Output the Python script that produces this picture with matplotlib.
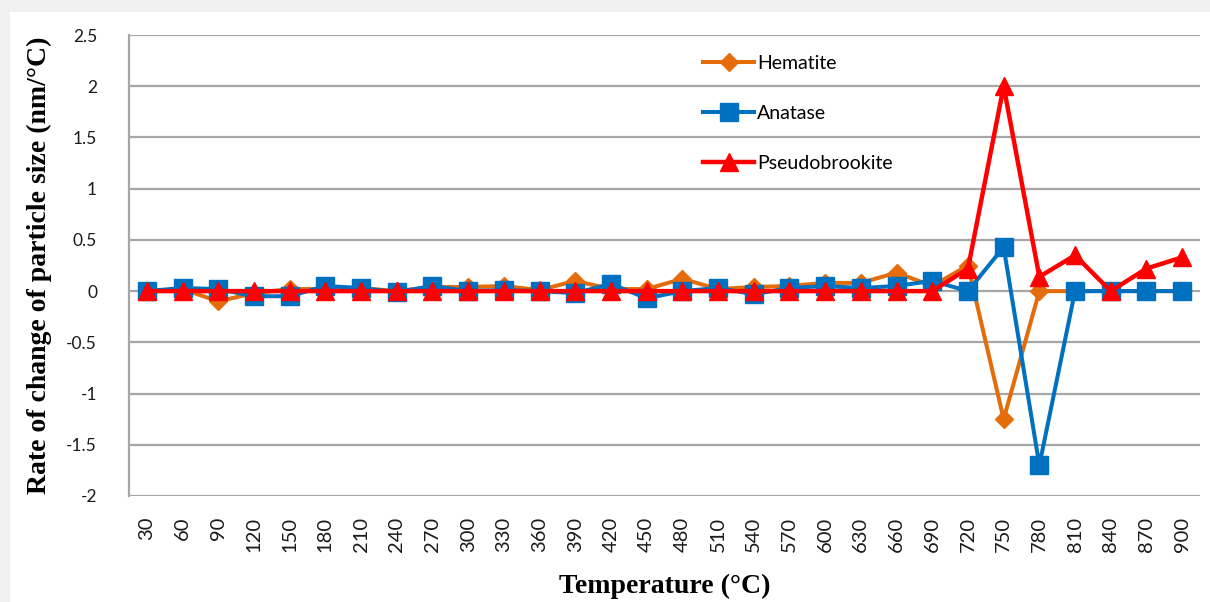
import matplotlib
matplotlib.use("Agg")
import matplotlib.pyplot as plt
from matplotlib.patches import Rectangle

temperatures = [30, 60, 90, 120, 150, 180, 210, 240, 270, 300, 330, 360, 390, 420, 450,
                480, 510, 540, 570, 600, 630, 660, 690, 720, 750, 780, 810, 840, 870, 900]
hematite = [0.0, 0.02, -0.10, -0.02, 0.02, 0.02, 0.03, 0.0, 0.04, 0.04, 0.05, 0.01, 0.10, 0.02, 0.02,
            0.12, 0.02, 0.04, 0.05, 0.08, 0.08, 0.18, 0.05, 0.25, -1.25, 0.0, 0.0, 0.0, 0.0, 0.0]
anatase = [0.0, 0.03, 0.02, -0.05, -0.05, 0.05, 0.03, -0.01, 0.05, 0.0, 0.01, 0.0, -0.02, 0.07, -0.07,
           0.0, 0.03, -0.03, 0.03, 0.05, 0.03, 0.05, 0.10, 0.0, 0.43, -1.70, 0.0, 0.0, 0.0, 0.0]
pseudobrookite = [0.0, 0.0, 0.0, 0.0, 0.0, 0.0, 0.0, 0.0, 0.0, 0.0, 0.0, 0.0, 0.0, 0.0, 0.0,
                  0.0, 0.0, 0.0, 0.0, 0.0, 0.0, 0.0, 0.0, 0.22, 2.0, 0.14, 0.35, 0.0, 0.22, 0.33]
y_ticks = [2.5, 2, 1.5, 1, 0.5, 0, -0.5, -1, -1.5, -2]
y_tick_labels = ["2.5", "2", "1.5", "1", "0.5", "0", "-0.5", "-1", "-1.5", "-2"]

fig = plt.figure(figsize=(12.1, 6.02), dpi=100, facecolor="#f0f0f0")
fig.patches.append(Rectangle((10/1210, 0), 1 - 10/1210, 1 - 12/602, transform=fig.transFigure,
                             facecolor="white", edgecolor="none", zorder=-10))
ax = fig.add_axes([129/1210, 1 - 496/602, (1200 - 129)/1210, (496 - 35)/602])
ax.set_zorder(5)
ax.set_facecolor("white")

x = list(range(len(temperatures)))
ax.plot(x, hematite, color="#E46C0A", lw=2.9, marker="D", markersize=9, label="Hematite", zorder=3)
ax.plot(x, anatase, color="#0070C0", lw=2.9, marker="s", markersize=12.5, label="Anatase", zorder=4)
ax.plot(x, pseudobrookite, color="#FF0000", lw=3.2, marker="^", markersize=13.5, label="Pseudobrookite", zorder=5)

ax.set_xlim(-0.5, len(temperatures) - 0.5)
ax.set_ylim(-2, 2.5)
ax.set_yticks(y_ticks)
ax.set_yticklabels(y_tick_labels, fontsize=12.5, family="Lato", color="#1a1a1a")
ax.set_xticks(x)
ax.set_xticklabels([str(t) for t in temperatures], rotation=90, fontsize=14.5,
                   family="Lato", color="#1a1a1a")
ax.tick_params(axis="y", length=0, pad=23)
ax.tick_params(axis="x", length=0, pad=15)
ax.yaxis.grid(True, color="#a6a6a6", lw=1.6)
ax.set_axisbelow(True)
for side in ["top", "right"]:
    ax.spines[side].set_visible(False)
ax.spines["bottom"].set_visible(False)
ax.spines["left"].set_color("#a6a6a6")
ax.spines["left"].set_linewidth(1.6)

ax.set_ylabel("Rate of change of particle size (nm/\u00b0C)", family="Liberation Serif",
              fontweight="bold", fontsize=20, labelpad=10)
ax.set_xlabel("Temperature (\u00b0C)", family="Liberation Serif", fontweight="bold",
              fontsize=20, labelpad=16)

leg = ax.legend(loc="upper left", bbox_to_anchor=(0.52, 0.995), frameon=False,
                prop={"family": "Lato", "size": 14}, handlelength=2.6,
                handletextpad=0.15, labelspacing=1.7)

fig.savefig("out.png", dpi=100, facecolor=fig.get_facecolor())
